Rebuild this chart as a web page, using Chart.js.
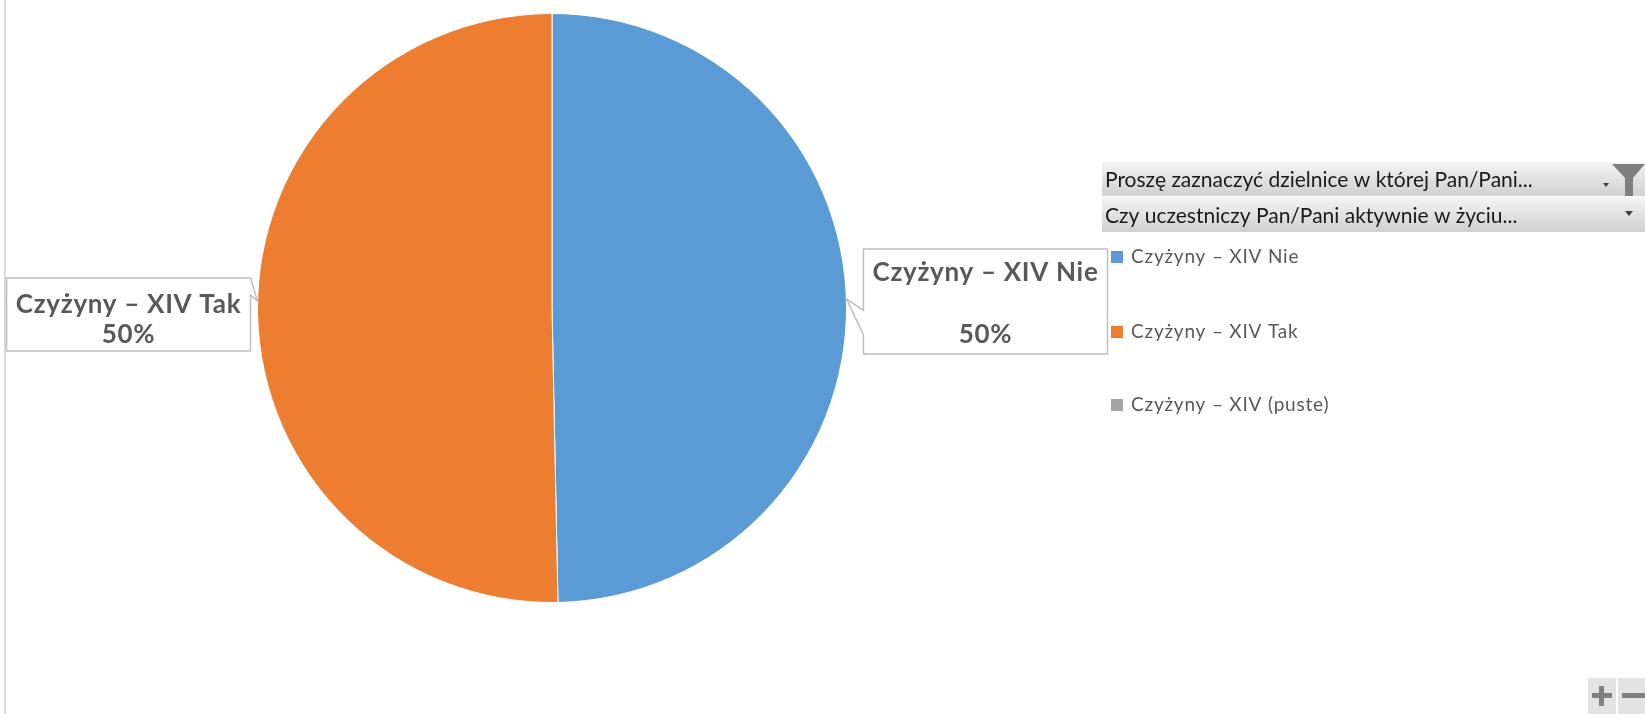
<!DOCTYPE html>
<html>
<head>
<meta charset="utf-8">
<script src="https://cdn.jsdelivr.net/npm/chart.js@4.4.0/dist/chart.umd.min.js"></script>
<style>
html,body{margin:0;padding:0;background:#fff;}
#wrap{width:1645px;height:714px;position:relative;}
</style>
</head>
<body>
<div id="wrap"><canvas id="c" width="1645" height="714"></canvas></div>
<script>
const categories = ['Czyżyny – XIV Nie', 'Czyżyny – XIV Tak', 'Czyżyny – XIV (puste)'];
const values = [77, 78, 0];
const colors = ['#5B9BD5', '#ED7D31', '#A5A5A5'];
const filterLabels = ['Proszę zaznaczyć dzielnice w której Pan/Pani...', 'Czy uczestniczy Pan/Pani aktywnie w życiu...'];

const FONT = 'Lato, "Open Sans", sans-serif';

function callout(ctx, left, top, w, h, side, tip, a1, a2) {
  ctx.beginPath();
  if (side === 'left') {
    ctx.moveTo(left, top);
    ctx.lineTo(left + w, top);
    ctx.lineTo(left + w, top + h);
    ctx.lineTo(left, top + h);
    ctx.lineTo(left, a2);
    ctx.lineTo(tip.x, tip.y);
    ctx.lineTo(left, a1);
    ctx.closePath();
  } else {
    const r = left + w;
    ctx.moveTo(left, top);
    ctx.lineTo(r, top);
    ctx.lineTo(tip.x, tip.y);
    ctx.lineTo(r, a2);
    ctx.lineTo(r, top + h);
    ctx.lineTo(left, top + h);
    ctx.closePath();
  }
  ctx.fillStyle = '#ffffff';
  ctx.fill();
  ctx.strokeStyle = '#bfbfbf';
  ctx.lineWidth = 1.5;
  ctx.stroke();
}

const decor = {
  id: 'decor',
  beforeDraw(chart) {
    const ctx = chart.ctx;
    ctx.save();
    ctx.fillStyle = '#d9d9d9';
    ctx.fillRect(4, 0, 2, chart.height);
    ctx.restore();
  },
  afterDraw(chart) {
    const ctx = chart.ctx;
    const meta = chart.getDatasetMeta(0);
    const data = chart.data.datasets[0].data;
    const total = data.reduce((a, b) => a + b, 0);
    ctx.save();
    meta.data.forEach((arc, i) => {
      if (!data[i]) return;
      const p = arc.getProps(['x', 'y', 'startAngle', 'endAngle', 'outerRadius'], true);
      const mid = (p.startAngle + p.endAngle) / 2;
      const px = p.x + Math.cos(mid) * p.outerRadius;
      const py = p.y + Math.sin(mid) * p.outerRadius;
      const pct = Math.round(data[i] / total * 100) + '%';
      ctx.font = 'bold 26px ' + FONT;
      ctx.letterSpacing = '0.7px';
      ctx.textAlign = 'center';
      ctx.textBaseline = 'middle';
      if (Math.cos(mid) > 0) {
        const left = px + 17, top = py - 56, w = 244, h = 105;
        callout(ctx, left, top, w, h, 'left', {x: px, y: py - 6}, top + 61, top + 86);
        ctx.fillStyle = '#595959';
        ctx.fillText(chart.data.labels[i], left + w / 2, top + 24);
        ctx.fillText(pct, left + w / 2, top + 86);
      } else {
        const w = 244, h = 73, left = px - 7 - w, top = py - 33;
        callout(ctx, left, top, w, h, 'right', {x: px, y: py - 10}, top, top + 17);
        ctx.fillStyle = '#595959';
        ctx.fillText(chart.data.labels[i], left + w / 2, top + 27);
        ctx.fillText(pct, left + w / 2, top + 57);
      }
    });
    ctx.letterSpacing = '0px';

    // filter header bars
    const bars = [[162, 35], [197, 36]];
    bars.forEach((b, i) => {
      const g = ctx.createLinearGradient(0, b[0], 0, b[0] + b[1]);
      g.addColorStop(0, '#f4f4f4');
      g.addColorStop(1, '#cfcfcf');
      ctx.fillStyle = g;
      ctx.fillRect(1102, b[0], 543, b[1]);
      ctx.fillStyle = '#ffffff';
      ctx.fillRect(1102, b[0] + b[1] - 1, 543, 1);
      ctx.font = '21px ' + FONT;
      ctx.fillStyle = '#1a1a1a';
      ctx.textAlign = 'left';
      ctx.textBaseline = 'middle';
      ctx.fillText(filterLabels[i], 1105, b[0] + b[1] / 2 + 1);
    });
    // funnel icon
    ctx.fillStyle = '#7f7f7f';
    ctx.beginPath();
    ctx.moveTo(1612, 164);
    ctx.lineTo(1645, 164);
    ctx.lineTo(1633, 178);
    ctx.lineTo(1633, 196);
    ctx.lineTo(1625, 196);
    ctx.lineTo(1625, 178);
    ctx.closePath();
    ctx.fill();
    // small arrows
    ctx.fillStyle = '#404040';
    ctx.beginPath();
    ctx.moveTo(1603, 183); ctx.lineTo(1609, 183); ctx.lineTo(1606, 187); ctx.closePath(); ctx.fill();
    ctx.beginPath();
    ctx.moveTo(1625, 211); ctx.lineTo(1633, 211); ctx.lineTo(1629, 216); ctx.closePath(); ctx.fill();

    // legend
    const ly = [257, 332, 405];
    chart.data.labels.forEach((lab, i) => {
      ctx.fillStyle = chart.data.datasets[0].backgroundColor[i];
      ctx.fillRect(1111, ly[i] - 6, 12, 12);
      ctx.font = '19px ' + FONT;
      ctx.letterSpacing = '0.8px';
      ctx.fillStyle = '#595959';
      ctx.textAlign = 'left';
      ctx.textBaseline = 'middle';
      ctx.fillText(lab, 1131, ly[i]);
    });
    ctx.letterSpacing = '0px';

    // zoom buttons
    ctx.fillStyle = '#e3e3e3';
    ctx.fillRect(1588, 678, 28, 36);
    ctx.fillRect(1618, 678, 27, 36);
    ctx.fillStyle = '#7f7f7f';
    ctx.fillRect(1592, 693, 20, 5);
    ctx.fillRect(1599, 686, 5, 20);
    ctx.fillRect(1622, 693, 23, 5);
    ctx.restore();
  }
};

new Chart(document.getElementById('c'), {
  type: 'pie',
  data: {
    labels: categories,
    datasets: [{
      data: values,
      backgroundColor: colors,
      borderColor: '#ffffff',
      borderWidth: 1
    }]
  },
  options: {
    responsive: false,
    animation: false,
    devicePixelRatio: 1,
    layout: { padding: { left: 257, right: 798, top: 13, bottom: 111 } },
    plugins: { legend: { display: false }, tooltip: { enabled: false } }
  },
  plugins: [decor]
});
</script>
</body>
</html>
